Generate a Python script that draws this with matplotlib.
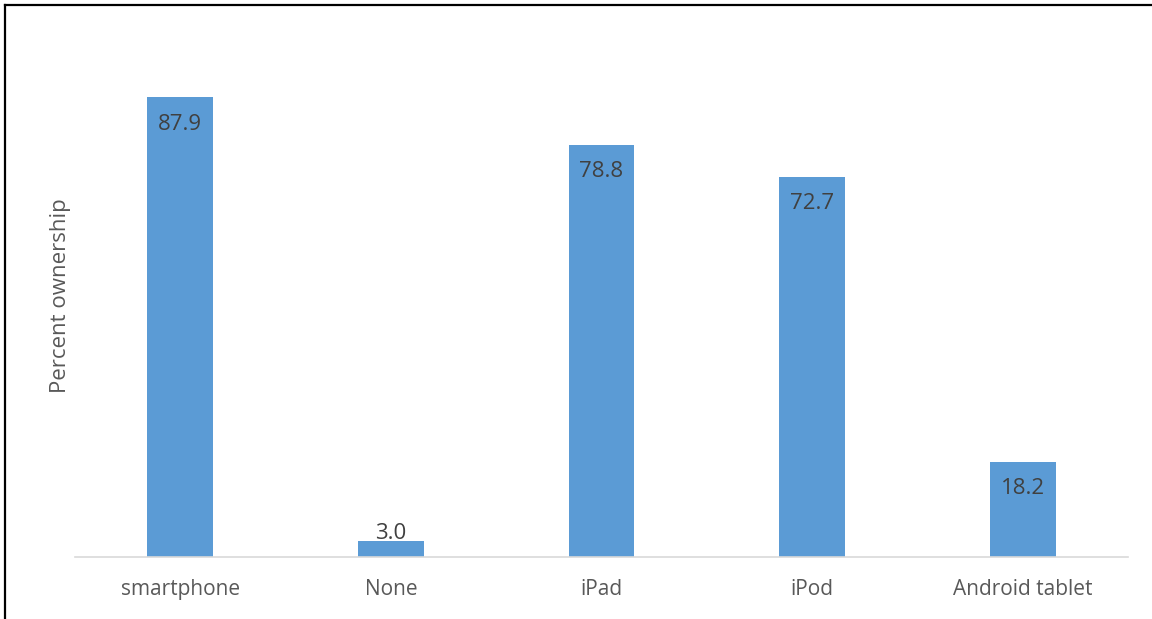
import matplotlib
matplotlib.use("Agg")
import matplotlib.pyplot as plt
from matplotlib.lines import Line2D

categories = ["smartphone", "None", "iPad", "iPod", "Android tablet"]
ownership = [87.9, 3.0, 78.8, 72.7, 18.2]

plt.rcParams["font.family"] = ["Open Sans", "DejaVu Sans"]

W, H = 1152, 619
fig = plt.figure(figsize=(W / 100, H / 100), dpi=100)
ax = fig.add_axes([75 / W, 1 - 557 / H, (1128 - 75) / W, (557 - 34) / H])

bar_color = "#5B9BD5"
x = range(len(categories))
bars = ax.bar(x, ownership, width=0.313, color=bar_color, zorder=2)

ax.set_xlim(-0.5, len(categories) - 0.5)
ax.set_ylim(0, 100)
ax.set_yticks([])
ax.set_xticks(list(x))
ax.set_xticklabels(categories, fontsize=15, color="#595959")
ax.tick_params(axis="x", length=0, pad=16)

for side in ["top", "right", "left"]:
    ax.spines[side].set_visible(False)
ax.spines["bottom"].set_color("#d9d9d9")
ax.spines["bottom"].set_linewidth(1.2)

ax.set_ylabel("Percent ownership", fontsize=16, color="#595959", labelpad=3)

for xi, val in zip(x, ownership):
    if val > 10:
        ax.annotate(f"{val:.1f}", (xi, val), xytext=(0, -27), textcoords="offset pixels",
                    ha="center", va="center", fontsize=16, color="#404040")
    else:
        ax.annotate(f"{val:.1f}", (xi, val), xytext=(0, 8), textcoords="offset pixels",
                    ha="center", va="center", fontsize=16, color="#404040")

# frame lines along the left and top of the figure
fig.add_artist(Line2D([4.5 / W, 4.5 / W], [0, 1 - 4.5 / H], transform=fig.transFigure,
                      color="black", linewidth=1.6))
fig.add_artist(Line2D([4.5 / W, 1], [1 - 4.5 / H, 1 - 4.5 / H], transform=fig.transFigure,
                      color="black", linewidth=1.6))

fig.savefig("out.png", dpi=100, facecolor="white")
